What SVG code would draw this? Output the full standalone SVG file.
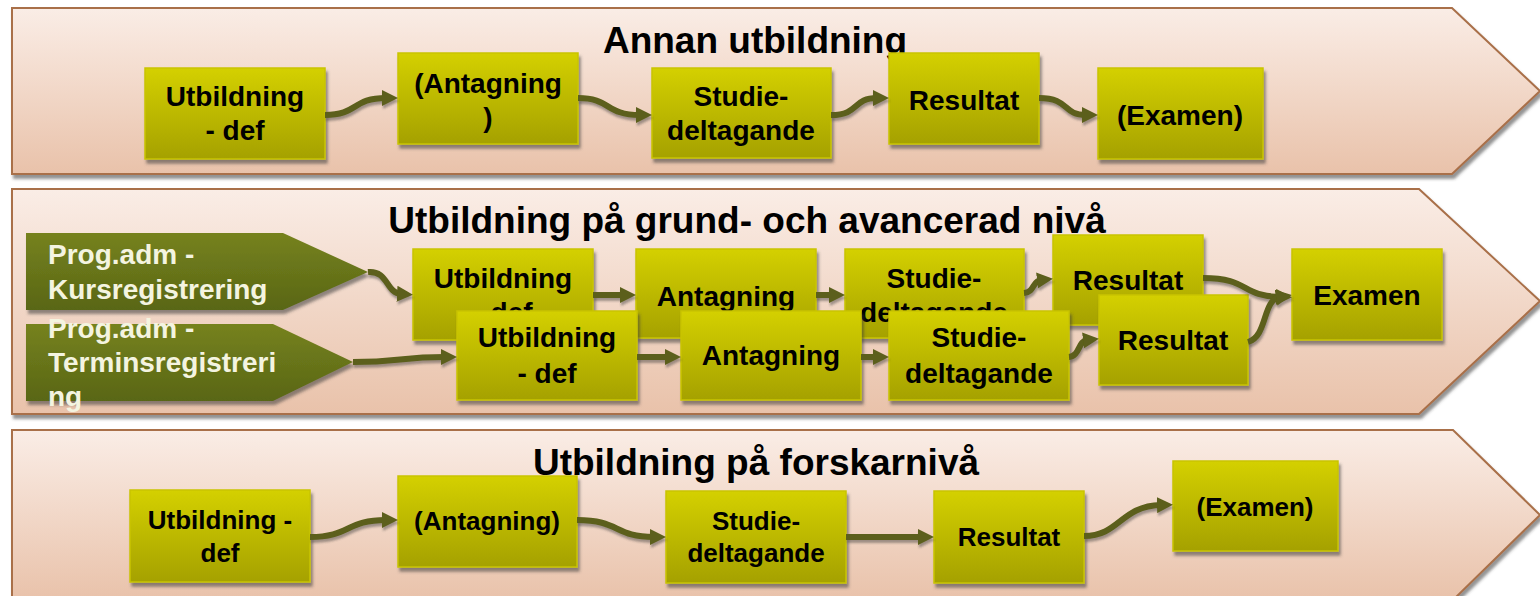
<svg xmlns="http://www.w3.org/2000/svg" width="1540" height="596" viewBox="0 0 1540 596">
<defs>
<linearGradient id="bandG" x1="0" y1="0" x2="0" y2="1"><stop offset="0" stop-color="#faede6"/><stop offset="1" stop-color="#e9c2aa"/></linearGradient>
<linearGradient id="boxG" x1="0" y1="0" x2="0" y2="1"><stop offset="0" stop-color="#d4d000"/><stop offset="1" stop-color="#a5a100"/></linearGradient>
<linearGradient id="progG" x1="0" y1="0" x2="0" y2="1"><stop offset="0" stop-color="#76821e"/><stop offset="1" stop-color="#596615"/></linearGradient>
<filter id="sh" x="-5%" y="-10%" width="115%" height="130%"><feDropShadow dx="2" dy="4" stdDeviation="1.5" flood-color="#3a3a3a" flood-opacity="0.55"/></filter>
<filter id="csh" x="-5%" y="-20%" width="110%" height="160%"><feDropShadow dx="1" dy="3" stdDeviation="1.2" flood-color="#3a3a3a" flood-opacity="0.45"/></filter>
<marker id="ah" viewBox="0 0 16 16" refX="4" refY="8" markerWidth="16" markerHeight="16" markerUnits="userSpaceOnUse" orient="auto"><path d="M0,0 L16,8 L0,16 z" fill="#5b5f1a"/></marker>
<style>
.band{fill:url(#bandG);stroke:#a96f48;stroke-width:2;filter:url(#sh)}
.box{fill:url(#boxG);stroke:#c9c400;stroke-width:1.5;filter:url(#sh)}
.prog{fill:url(#progG);filter:url(#sh)}
text{font-family:"Liberation Sans",Arial,sans-serif;font-weight:bold}
.title{font-size:37px;fill:#000;text-anchor:middle}
.lbl{font-size:28px;fill:#000;text-anchor:middle}
.lbl3{font-size:26px;fill:#000;text-anchor:middle}
.ptxt{font-size:28px;fill:#f4f4e0}
.conn path{fill:none;stroke:#5b5f1a;stroke-width:6;marker-end:url(#ah)}
</style>
</defs>

<g id="band1">
<polygon class="band" points="12,8 1452,8 1540,91 1452,174 12,174"/>
<text class="title" x="755" y="53">Annan utbildning</text>
</g>
<g id="band2">
<polygon class="band" points="12,189 1419,189 1540,301 1419,414 12,414"/>
<text class="title" x="747" y="233">Utbildning på grund- och avancerad nivå</text>
</g>
<g id="band3">
<polygon class="band" points="12,430 1453,430 1540,515 1453,600 12,600"/>
<text class="title" x="756" y="475">Utbildning på forskarnivå</text>
</g>

<!-- band 1 nodes -->
<g id="b1-utb"><rect class="box" x="145" y="68" width="180" height="91"/><text class="lbl" x="235" y="106">Utbildning</text><text class="lbl" x="235" y="140">- def</text></g>
<g id="b1-ant"><rect class="box" x="398" y="53" width="180" height="91"/><text class="lbl" x="488" y="93">(Antagning</text><text class="lbl" x="488" y="127">)</text></g>
<g id="b1-stu"><rect class="box" x="652" y="68" width="179" height="90"/><text class="lbl" x="741" y="106">Studie-</text><text class="lbl" x="741" y="140">deltagande</text></g>
<g id="b1-res"><rect class="box" x="889" y="53" width="150" height="91"/><text class="lbl" x="964" y="110">Resultat</text></g>
<g id="b1-exa"><rect class="box" x="1098" y="68" width="165" height="91"/><text class="lbl" x="1180" y="125">(Examen)</text></g>

<!-- band 2 nodes -->
<g id="b2-kurs"><polygon class="prog" points="26,233 283,233 368,272 283,310 26,310"/><text class="ptxt" x="48" y="264">Prog.adm -</text><text class="ptxt" x="48" y="299">Kursregistrering</text></g>
<g id="b2-term"><polygon class="prog" points="26,324 273,324 353,362 273,401 26,401"/><text class="ptxt" x="48" y="338">Prog.adm -</text><text class="ptxt" x="48" y="372">Terminsregistreri</text><text class="ptxt" x="48" y="406">ng</text></g>

<g id="b2-utb1"><rect class="box" x="413" y="249" width="180" height="91"/><text class="lbl" x="503" y="288">Utbildning</text><text class="lbl" x="503" y="322">- def</text></g>
<g id="b2-ant1"><rect class="box" x="636" y="249" width="180" height="89"/><text class="lbl" x="726" y="306">Antagning</text></g>
<g id="b2-stu1"><rect class="box" x="845" y="249" width="179" height="89"/><text class="lbl" x="934" y="288">Studie-</text><text class="lbl" x="934" y="322">deltagande</text></g>
<g id="b2-res1"><rect class="box" x="1053" y="235" width="150" height="90"/><text class="lbl" x="1128" y="290">Resultat</text></g>
<g id="b2-exa"><rect class="box" x="1292" y="249" width="150" height="91"/><text class="lbl" x="1367" y="305">Examen</text></g>

<g id="b2-utb2"><rect class="box" x="457" y="311" width="180" height="89"/><text class="lbl" x="547" y="347">Utbildning</text><text class="lbl" x="547" y="383">- def</text></g>
<g id="b2-ant2"><rect class="box" x="681" y="311" width="180" height="89"/><text class="lbl" x="771" y="365">Antagning</text></g>
<g id="b2-stu2"><rect class="box" x="889" y="311" width="180" height="89"/><text class="lbl" x="979" y="347">Studie-</text><text class="lbl" x="979" y="383">deltagande</text></g>
<g id="b2-res2"><rect class="box" x="1099" y="295" width="149" height="90"/><text class="lbl" x="1173" y="350">Resultat</text></g>

<!-- band 3 nodes -->
<g id="b3-utb"><rect class="box" x="130" y="490" width="180" height="92"/><text class="lbl3" x="220" y="529">Utbildning -</text><text class="lbl3" x="220" y="562">def</text></g>
<g id="b3-ant"><rect class="box" x="398" y="476" width="179" height="91"/><text class="lbl3" x="487" y="530">(Antagning)</text></g>
<g id="b3-stu"><rect class="box" x="666" y="491" width="180" height="92"/><text class="lbl3" x="756" y="530">Studie-</text><text class="lbl3" x="756" y="562">deltagande</text></g>
<g id="b3-res"><rect class="box" x="934" y="491" width="150" height="92"/><text class="lbl3" x="1009" y="546">Resultat</text></g>
<g id="b3-exa"><rect class="box" x="1173" y="461" width="165" height="90"/><text class="lbl3" x="1255" y="516">(Examen)</text></g>

<g id="connectors" class="conn" filter="url(#csh)">
<path d="M325,115 C358,115 352,98 386,98"/>
<path d="M578,98 C611,98 605,115 640,115"/>
<path d="M831,115 C860,115 852,98 877,98"/>
<path d="M1039,98 C1070,98 1062,115 1086,115"/>
<path d="M368,272 C388,270 386,293 401,294"/>
<path d="M353,362 C400,362 400,357 445,357"/>
<path d="M593,295 L624,295"/>
<path d="M816,295 L833,295"/>
<path d="M1024,293 C1035,292 1032,281 1041,280"/>
<path d="M1203,278 C1250,278 1240,296 1280,297"/>
<path d="M1248,342 C1268,336 1262,300 1280,297"/>
<path d="M637,357 L669,357"/>
<path d="M861,357 L877,357"/>
<path d="M1069,357 C1080,356 1078,341 1087,340"/>
<path d="M310,537 C350,537 346,520 386,520"/>
<path d="M577,520 C620,520 614,537 654,537"/>
<path d="M846,537 L922,537"/>
<path d="M1084,536 C1120,536 1120,506 1161,505"/>
</g>
</svg>
